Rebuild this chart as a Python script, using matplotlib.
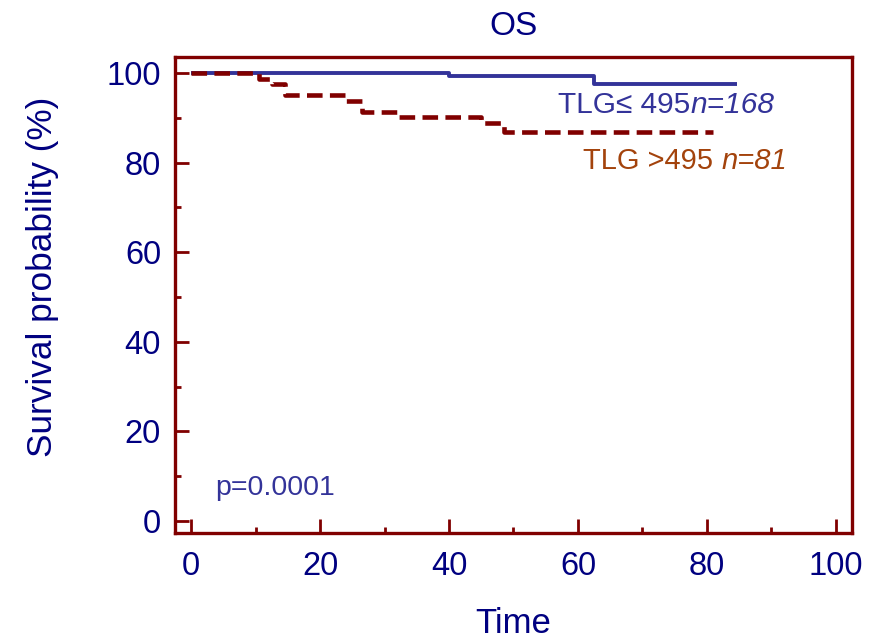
import matplotlib
matplotlib.use("Agg")
import matplotlib.pyplot as plt
from matplotlib.ticker import MultipleLocator

plt.rcParams['font.family'] = ['Liberation Sans', 'DejaVu Sans']

# Data (Kaplan-Meier step curves, survival %)
low_t = [0, 40, 62.5, 84.7]
low_s = [100, 99.3, 97.6, 97.6]
high_t = [0, 10.5, 12.5, 14.5, 24, 26.5, 32, 45, 48.5, 81]
high_s = [100, 98.8, 97.5, 95.1, 93.8, 91.4, 90.1, 88.9, 86.9, 86.9]
xticks = [0, 20, 40, 60, 80, 100]
yticks = [0, 20, 40, 60, 80, 100]
title = "OS"
xlabel = "Time"
ylabel = "Survival probability (%)"
label_low = ("TLG\u2264 495", "n=168")
label_high = ("TLG >495", "n=81")
ptext = "p=0.0001"

navy = "#000080"
maroon = "#800000"
blue = "#333399"
rust = "#A3430C"

fig = plt.figure(figsize=(8.78, 6.4), dpi=100)
ax = fig.add_axes([0.1993, 0.1672, 0.7711, 0.7437])

ax.step(low_t, low_s, where='post', color=blue, lw=2.8, solid_capstyle='butt', zorder=2)
ax.step(high_t, high_s, where='post', color=maroon, lw=3.3, linestyle=(0, (3.4, 1.6)),
        dash_capstyle='butt', zorder=3)

ax.set_xlim(-2.5, 102.5)
ax.set_ylim(-2.7, 103.6)
ax.set_xticks(xticks)
ax.set_yticks(yticks)
ax.xaxis.set_minor_locator(MultipleLocator(10))
ax.yaxis.set_minor_locator(MultipleLocator(10))
for s in ax.spines.values():
    s.set_color(maroon)
    s.set_linewidth(2.4)
ax.tick_params(which='major', direction='in', length=10, width=2, color=maroon,
               labelsize=23.5, labelcolor=navy)
ax.tick_params(which='minor', direction='in', length=4.5, width=2, color=maroon)
ax.tick_params(axis='y', pad=10)
ax.tick_params(axis='x', pad=13)

ax.set_title(title, fontsize=24, color=navy, pad=16)
ax.set_xlabel(xlabel, fontsize=25, color=navy, labelpad=18)
ax.set_ylabel(ylabel, fontsize=25.3, color=navy, va='center')
ax.yaxis.set_label_coords(-0.196, 0.538)

t1 = ax.text(56.9, 92.9, label_low[0], fontsize=21.5, color=blue, va='center', ha='left')
ax.annotate(label_low[1], xy=(1, 0.5), xycoords=t1, va='center', ha='left',
            fontsize=21.5, color=blue, style='italic')
t2 = ax.text(60.8, 80.4, label_high[0] + " ", fontsize=21, color=rust, va='center', ha='left')
ax.annotate(label_high[1], xy=(1, 0.5), xycoords=t2, va='center', ha='left',
            fontsize=21, color=rust, style='italic')
ax.text(3.7, 7.4, ptext, fontsize=20.5, color=blue, va='center', ha='left')

fig.savefig("out.png", dpi=100)
